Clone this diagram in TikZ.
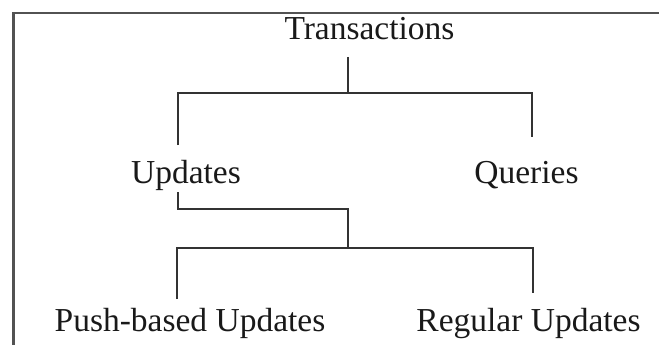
\documentclass[tikz,border=0pt]{standalone}
\usepackage{fontspec}
\setmainfont{Liberation Serif}
\begin{document}
\begin{tikzpicture}[x=1pt,y=-1pt,
  lbl/.style={anchor=base,inner sep=0pt,font=\fontsize{33.5}{40}\selectfont,text=black!90},
  conn/.style={line width=1.6pt,draw=black!80},
  frame/.style={line width=2.2pt,draw=black!68}]
\useasboundingbox (0,0) rectangle (659,345);
% frame
\draw[frame] (13.5,345) -- (13.5,13) -- (659,13);
% labels
\node[lbl] (T) at (369.5,40) {Transactions};
\node[lbl] (U) at (186,183) {Updates};
\node[lbl] (Q) at (526.5,183) {Queries};
\node[lbl] (P) at (190,331) {Push-based Updates};
\node[lbl] (R) at (528.5,331) {Regular Updates};
% junction coordinates
\coordinate (t0) at (348,57);
\coordinate (j1) at (348,93);
\coordinate (l1) at (178,93);
\coordinate (r1) at (532,93);
\coordinate (ue) at (178,145);
\coordinate (qe) at (532,137);
\coordinate (u0) at (178,192);
\coordinate (u1) at (178,209);
\coordinate (u2) at (348,209);
\coordinate (j2) at (348,248);
\coordinate (l2) at (177,248);
\coordinate (r2) at (533,248);
\coordinate (pe) at (177,299);
\coordinate (re) at (533,293);
% connectors
\draw[conn] (t0) -- (j1);
\draw[conn] (ue) -- (l1) -- (r1) -- (qe);
\draw[conn] (u0) -- (u1) -- (u2) -- (j2);
\draw[conn] (pe) -- (l2) -- (r2) -- (re);
\end{tikzpicture}
\end{document}
